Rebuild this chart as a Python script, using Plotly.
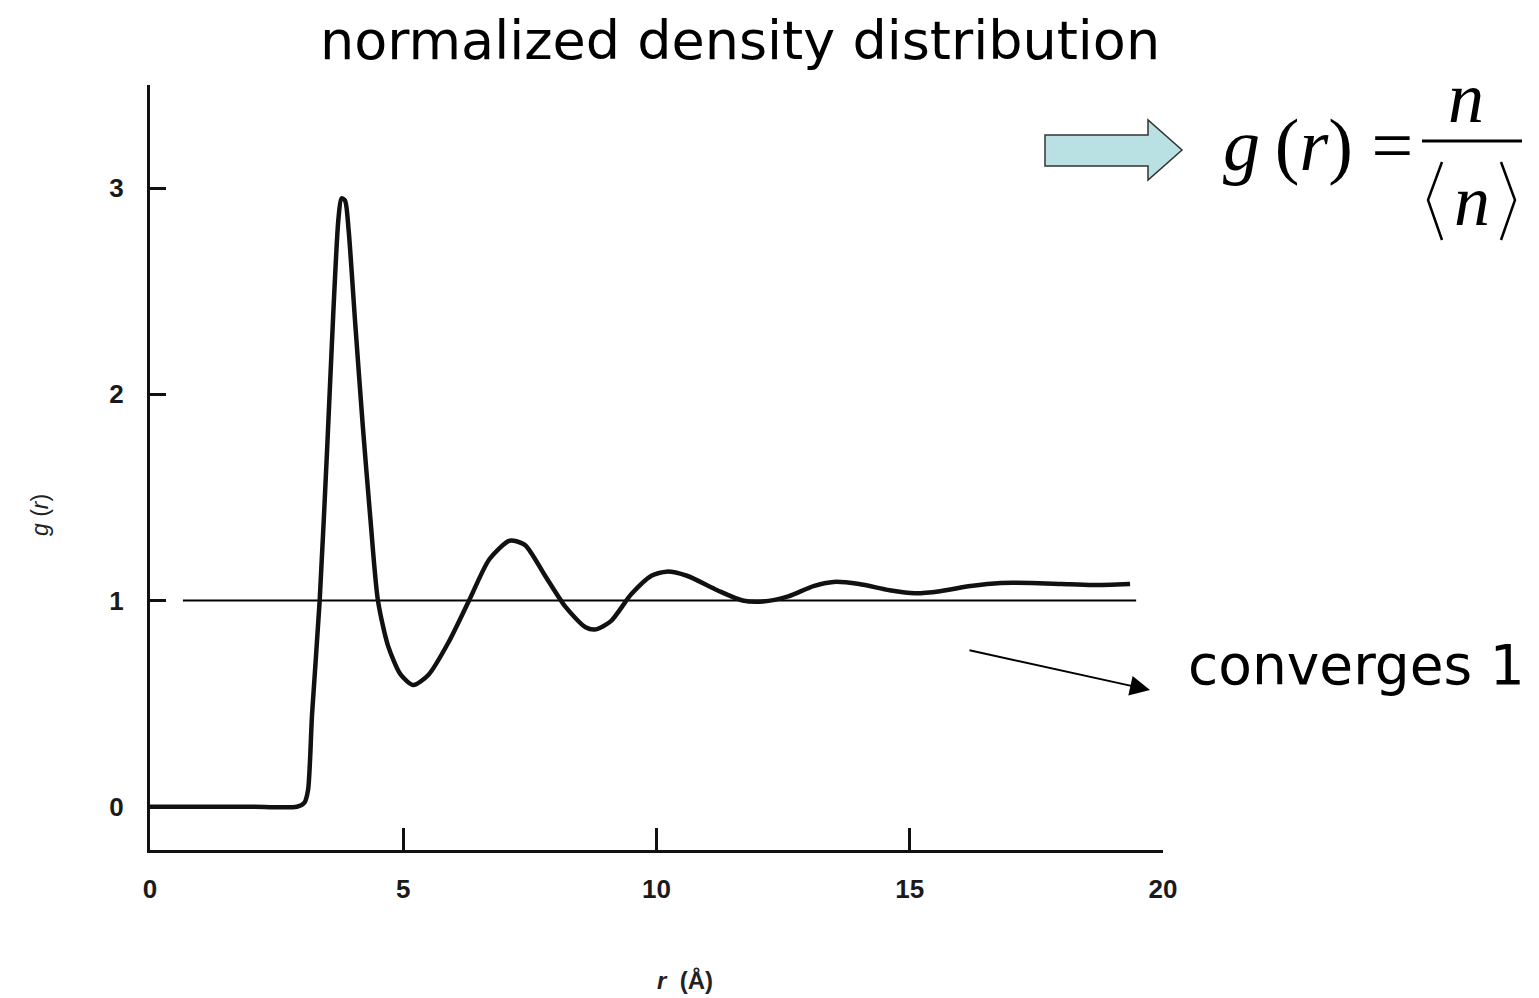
import plotly.graph_objects as go

# ---- data ----
r_vals = [0.0, 1.0, 2.0, 2.9, 3.05, 3.12, 3.2, 3.35, 3.5, 3.62, 3.72, 3.78, 3.85, 3.92,
          4.05, 4.2, 4.35, 4.5, 4.7, 4.95, 5.2, 5.5, 5.9, 6.3, 6.7, 7.1, 7.4, 7.8, 8.2,
          8.6, 8.8, 9.1, 9.5, 9.9, 10.2, 10.6, 11.2, 11.7, 12.1, 12.6, 13.1, 13.5, 14.0,
          14.6, 15.1, 15.6, 16.2, 16.8, 17.4, 18.0, 18.6, 19.35]
g_vals = [0.0, 0.0, 0.0, 0.0, 0.02, 0.08, 0.45, 1.0, 1.75, 2.4, 2.85, 2.95, 2.94, 2.8,
          2.35, 1.85, 1.4, 1.0, 0.78, 0.64, 0.59, 0.64, 0.8, 1.0, 1.2, 1.29, 1.27, 1.12, 0.97,
          0.87, 0.86, 0.9, 1.03, 1.12, 1.14, 1.12, 1.05, 1.0, 0.995, 1.02, 1.07, 1.09, 1.08,
          1.05, 1.035, 1.045, 1.07, 1.085, 1.085, 1.08, 1.075, 1.08]
ref_r = [0.65, 19.47]
ref_g = [1.0, 1.0]
x_ticks = [0, 5, 10, 15, 20]
y_ticks = [0, 1, 2, 3]

OFF = 8  # page body margin
W, H = 1539 - OFF, 998 - OFF
L, R, T, B = 150, 1163, 85, 850  # plot-area box in screen pixels


def px(x):
    return (x - L) / (R - L)


def py(y):
    return (B - y) / (B - T)


fig = go.Figure()
fig.add_trace(go.Scatter(x=ref_r, y=ref_g, mode="lines",
                         line=dict(color="black", width=2), hoverinfo="skip"))
fig.add_trace(go.Scatter(x=r_vals, y=g_vals, mode="lines",
                         line=dict(color="#111111", width=4.5, shape="spline", smoothing=0.7)))

tick_font = dict(family="Liberation Sans, Arial, sans-serif", size=26, color="#1a1a1a", weight="bold")
fig.update_xaxes(range=[0, 20], tickvals=x_ticks, ticktext=["0", "5", "10", "15", "20"],
                 ticks="inside", ticklen=22, tickwidth=2.5, tickcolor="#111",
                 showline=True, linecolor="#111", linewidth=3, showgrid=False,
                 zeroline=False, tickfont=tick_font, ticklabelstandoff=14)
fig.update_yaxes(range=[-0.21, 3.5], tickvals=y_ticks,
                 ticks="inside", ticklen=16, tickwidth=2.5, tickcolor="#111",
                 showline=True, linecolor="#111", linewidth=3, showgrid=False,
                 zeroline=False, tickfont=tick_font, ticklabelstandoff=18)

serif = "Liberation Serif, Times New Roman, serif"
annotations = [
    dict(text="normalized density distribution", x=px(740), y=py(OFF), xref="paper", yref="paper",
         showarrow=False, font=dict(family="DejaVu Sans, Verdana, sans-serif", size=54, color="black"),
         xanchor="center", yanchor="top", borderpad=0),
    dict(text="converges 1", x=px(1186), y=py(665), xref="paper", yref="paper",
         showarrow=False, font=dict(family="DejaVu Sans, Verdana, sans-serif", size=55, color="black"),
         xanchor="left", yanchor="middle"),
    dict(text="", x=px(1150), y=py(690), xref="paper", yref="paper",
         showarrow=True, ax=-182, ay=-40, arrowhead=2, arrowsize=2.0, arrowwidth=2,
         arrowcolor="black"),
    dict(text="<i>g</i>\u2009(<i>r</i>) =", x=px(1318), y=py(145), xref="paper", yref="paper",
         showarrow=False, font=dict(family=serif, size=74, color="black"),
         xanchor="center", yanchor="middle"),
    dict(text="<i>n</i>", x=px(1466), y=py(98), xref="paper", yref="paper",
         showarrow=False, font=dict(family=serif, size=72, color="black"),
         xanchor="center", yanchor="middle"),
    dict(text="<i>n</i>", x=px(1472), y=py(201), xref="paper", yref="paper",
         showarrow=False, font=dict(family=serif, size=72, color="black"),
         xanchor="center", yanchor="middle"),
    dict(text="<i>g</i> (<i>r</i>)", x=px(40), y=py(515), xref="paper", yref="paper", textangle=-90,
         showarrow=False, font=dict(family="Liberation Sans, Arial, sans-serif", size=23, color="#222"),
         xanchor="center", yanchor="middle"),
    dict(text="<b><i>r</i>  (Å)</b>", x=px(685), y=py(980), xref="paper", yref="paper",
         showarrow=False, font=dict(family="Liberation Sans, Arial, sans-serif", size=24, color="#222"),
         xanchor="center", yanchor="middle"),
]


def path(points):
    a, b = points[0]
    s = f"M {px(a):.5f},{py(b):.5f}"
    s += "".join(f" L {px(a):.5f},{py(b):.5f}" for a, b in points[1:])
    return s


shapes = [
    # block arrow
    dict(type="path", xref="paper", yref="paper",
         path=path([(1045, 135), (1148, 135), (1148, 120), (1182, 150), (1148, 180),
                    (1148, 166), (1045, 166)]) + " Z",
         fillcolor="#b9e0e2", line=dict(color="#333", width=1.5)),
    # fraction bar
    dict(type="line", xref="paper", yref="paper", x0=px(1422), x1=px(1522), y0=py(141), y1=py(141),
         line=dict(color="black", width=3)),
    # angle brackets
    dict(type="path", xref="paper", yref="paper",
         path=path([(1442, 162), (1428, 200), (1442, 240)]), line=dict(color="black", width=2.5)),
    dict(type="path", xref="paper", yref="paper",
         path=path([(1501, 162), (1515, 200), (1501, 240)]), line=dict(color="black", width=2.5)),
]

fig.update_layout(width=W, height=H,
                  margin=dict(l=L - OFF, r=1539 - R, t=T - OFF, b=998 - B, autoexpand=False),
                  plot_bgcolor="white", paper_bgcolor="white", showlegend=False,
                  annotations=annotations, shapes=shapes)

fig.write_html("out.html")
